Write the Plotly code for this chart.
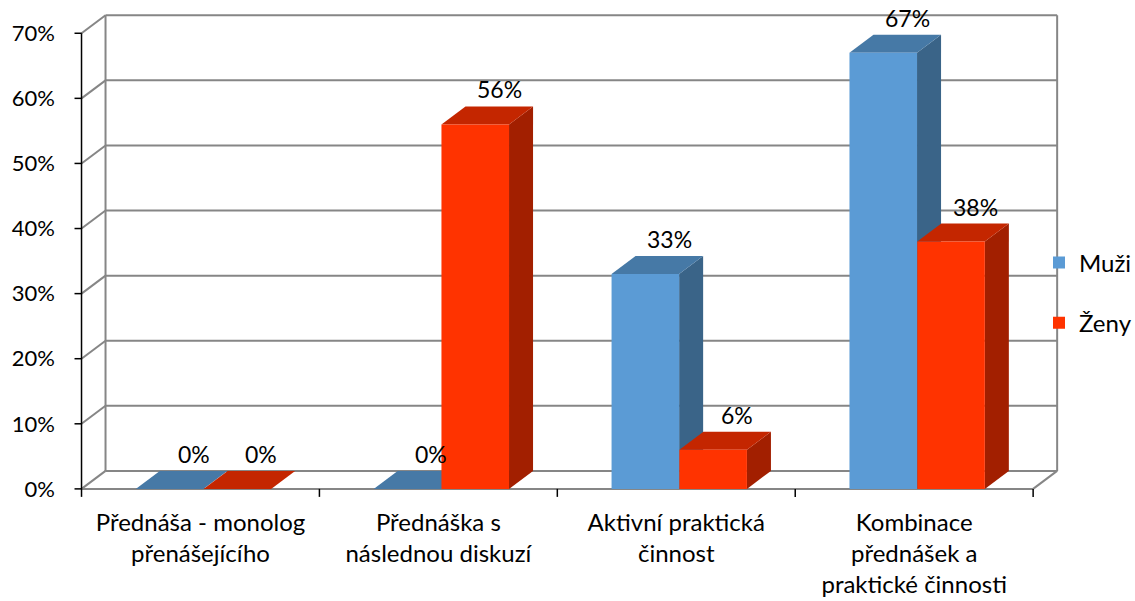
import plotly.graph_objects as go

# ---- data ----
categories = [
    "Přednáša - monolog<br>přenášejícího",
    "Přednáška s<br>následnou diskuzí",
    "Aktivní praktická<br>činnost",
    "Kombinace<br>přednášek a<br>praktické činnosti",
]
muzi = [0, 0, 33, 67]
zeny = [0, 56, 6, 38]
series_names = ["Muži", "Ženy"]
y_tick_values = [0, 10, 20, 30, 40, 50, 60, 70]
y_tick_labels = ["0%", "10%", "20%", "30%", "40%", "50%", "60%", "70%"]

# ---- style / geometry ----
FONT = "Lato"
FS_NUM = 22
FS_LBL = 23
FS_TXT = 24
W, H = 1135, 601
PX_X = 237.75          # pixels per category
PX_Y = 6.514           # pixels per percent
DX = 24 / PX_X         # depth offset in x units
DY = 18 / PX_Y         # depth offset in y units
YMAX = 70
NCAT = len(categories)
XPAD_L, XPAD_R = 0.04, 0.012
YPAD_B, YPAD_T = 1.4, 0.35
BAR_W = 0.284
OFFS = [0.37, 0.655]

front_col = ["#5B9BD5", "#FF3300"]
top_col = ["#4679A6", "#C42600"]
side_col = ["#3A6488", "#A21F00"]
GRID = "#868686"

x0r, x1r = -XPAD_L, NCAT + DX + XPAD_R
y0r, y1r = -YPAD_B, YMAX + DY + YPAD_T
plot_w = (x1r - x0r) * PX_X
plot_h = (y1r - y0r) * PX_Y
ml = 82 - XPAD_L * PX_X
mt = 15 - YPAD_T * PX_Y
mr = W - ml - plot_w
mb = H - mt - plot_h

shapes = []

def line(xa, ya, xb, yb, color=GRID, width=2):
    shapes.append(dict(type="line", xref="x", yref="y", x0=xa, y0=ya, x1=xb, y1=yb,
                       line=dict(color=color, width=width), layer="below"))

def poly(pts, color):
    d = "M " + " L ".join(f"{px},{py}" for px, py in pts) + " Z"
    shapes.append(dict(type="path", xref="x", yref="y", path=d, fillcolor=color,
                       line=dict(width=0), layer="below"))

# back wall gridlines + left wall diagonals
for v in y_tick_values:
    line(DX, v + DY, NCAT + DX, v + DY)
    line(0, v, DX, v + DY)
# back wall verticals
line(DX, DY, DX, YMAX + DY)
line(NCAT + DX, DY, NCAT + DX, YMAX + DY)
# floor
line(0, 0, NCAT, 0)
line(NCAT, 0, NCAT + DX, DY)
# front value axis (black) and ticks
line(0, 0, 0, YMAX, color="#000000", width=1.5)
for v in y_tick_values:
    line(0, v, -7 / PX_X, v, color="#000000", width=1.5)
# category ticks
for k in range(NCAT + 1):
    line(k, 0, k, -8 / PX_Y, color="#000000", width=1.5)

# 3D faces of bars
series = [muzi, zeny]
for i in range(NCAT):
    for s in range(2):
        v = series[s][i]
        c = i + OFFS[s]
        xl, xr = c - BAR_W / 2, c + BAR_W / 2
        if v > 0:
            poly([(xr, 0), (xr, v), (xr + DX, v + DY), (xr + DX, DY)], side_col[s])
        poly([(xl, v), (xr, v), (xr + DX, v + DY), (xl + DX, v + DY)], top_col[s])

fig = go.Figure()
for s in range(2):
    fig.add_trace(go.Bar(
        x=[i + OFFS[s] for i in range(NCAT)],
        y=series[s],
        width=BAR_W,
        name=series_names[s],
        marker=dict(color=front_col[s], line=dict(width=0)),
        legendgroup=series_names[s],
        hoverinfo="skip",
    ))

annotations = []
for s in range(2):
    for i in range(NCAT):
        v = series[s][i]
        annotations.append(dict(
            x=i + OFFS[s] + DX, y=v + DY, xref="x", yref="y",
            text=f"{v}%", showarrow=False, yanchor="bottom", xanchor="center",
            yshift=1, font=dict(family=FONT, size=FS_LBL, color="#000000"),
        ))

fig.update_layout(
    width=W, height=H,
    margin=dict(l=ml, r=mr, t=mt, b=mb, pad=0, autoexpand=False),
    paper_bgcolor="white", plot_bgcolor="white",
    barmode="overlay",
    shapes=shapes,
    annotations=annotations,
    font=dict(family=FONT, size=FS_TXT, color="#000000"),
    showlegend=True,
    legend=dict(xref="container", yref="container",
                x=1039 / W, xanchor="left", y=1 - 293 / H, yanchor="middle",
                font=dict(family=FONT, size=FS_TXT, color="#000000"),
                tracegroupgap=26, traceorder="grouped", bgcolor="rgba(0,0,0,0)",
                itemwidth=30),
    xaxis=dict(range=[x0r, x1r], showgrid=False, zeroline=False, showline=False,
               tickmode="array", tickvals=[i + 0.5 for i in range(NCAT)],
               ticktext=categories, ticks="", ticklabelstandoff=8,
               tickfont=dict(family=FONT, size=FS_TXT, color="#000000")),
    yaxis=dict(range=[y0r, y1r], showgrid=False, zeroline=False, showline=False,
               tickmode="array", tickvals=y_tick_values, ticktext=y_tick_labels,
               ticks="", ticklabelstandoff=16,
               tickfont=dict(family=FONT, size=FS_NUM, color="#000000")),
)

fig.write_html("out.html")
